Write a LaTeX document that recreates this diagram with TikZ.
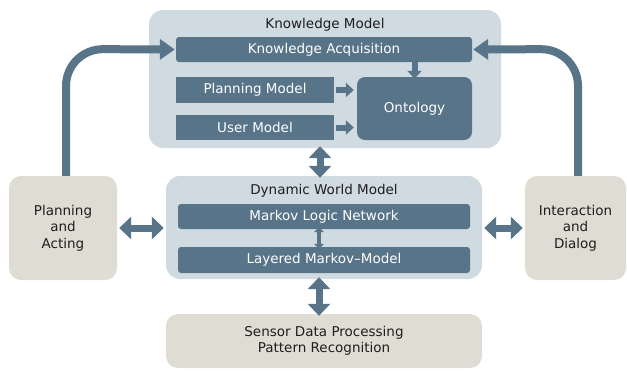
\documentclass[tikz,border=0pt]{standalone}
\usepackage{fontspec}
\setmainfont{DejaVu Sans}
\usetikzlibrary{arrows.meta}
\definecolor{slate}{HTML}{587489}
\definecolor{mist}{HTML}{CFDAE1}
\definecolor{sand}{HTML}{DFDCD4}
\definecolor{ink}{HTML}{1E1E1E}
\tikzset{
  group/.style={fill=mist, draw=none, rounded corners=14pt, inner sep=0pt},
  bar/.style={fill=slate, draw=none, rounded corners=3pt, inner sep=0pt, text=white, font=\fontsize{13.5}{15}\selectfont},
  plainbar/.style={bar, rounded corners=0pt},
  outer/.style={fill=sand, draw=none, rounded corners=12pt, inner sep=0pt, text=ink, align=center, font=\fontsize{13.5}{16.5}\selectfont},
  heading/.style={text=ink, inner sep=0pt, font=\fontsize{13.5}{15}\selectfont},
  dbl/.style={draw=slate, line width=7pt, {Triangle[width=22pt,length=12pt]}-{Triangle[width=22pt,length=12pt]}},
  tiny/.style={draw=slate, line width=3.5pt, {Triangle[width=10pt,length=5pt]}-{Triangle[width=10pt,length=5pt]}},
  push/.style={draw=slate, line width=6pt, -{Triangle[width=14pt,length=8pt]}},
  loop/.style={draw=slate, line width=8pt, rounded corners=37pt, -{Triangle[width=20pt,length=15pt]}},
}
\begin{document}
\begin{tikzpicture}[x=1pt,y=-1pt]
  \useasboundingbox (0,0) rectangle (627,370);

  % knowledge model group
  \node[group, minimum width=352pt, minimum height=138pt] (km) at (325,79) {};
  \node[heading] (kmt) at (325,25) {Knowledge Model};
  \node[bar, minimum width=296pt, minimum height=25pt] (ka) at (324,49.5) {Knowledge Acquisition};
  \node[plainbar, minimum width=158pt, minimum height=26pt] (pm) at (255,90) {Planning Model};
  \node[plainbar, minimum width=158pt, minimum height=25pt] (um) at (255,127.5) {User Model};
  \node[bar, rounded corners=8pt, minimum width=115pt, minimum height=63pt] (onto) at (414.5,108.5) {Ontology};

  % dynamic world model group
  \node[group, minimum width=316pt, minimum height=103pt] (dwm) at (324,227.5) {};
  \node[heading] (dwmt) at (324,191) {Dynamic World Model};
  \node[bar, minimum width=292pt, minimum height=25pt] (mln) at (324,216.5) {Markov Logic Network};
  \node[bar, minimum width=292pt, minimum height=26pt] (lmm) at (324,260) {Layered Markov–Model};

  % outer components
  \node[outer, minimum width=108pt, minimum height=104pt] (pa) at (63,228) {Planning\\and\\Acting};
  \node[outer, minimum width=101pt, minimum height=104pt] (id) at (575.5,228) {Interaction\\and\\Dialog};
  \node[outer, minimum width=316pt, minimum height=54pt] (sdp) at (324,341) {Sensor Data Processing\\Pattern Recognition};

  % connectors inside the knowledge model
  \draw[push] (pm.east) ++(2pt,0) -- ([xshift=-3pt]onto.west |- pm.east);
  \draw[push] (um.east) ++(2pt,0) -- ([xshift=-3pt]onto.west |- um.east);
  \draw[push] ([yshift=2pt]ka.south -| onto.north) -- ([yshift=-2pt]onto.north);

  % connectors between the groups
  \draw[dbl] ([yshift=2pt]km.south -| 320,0) -- ([yshift=-2pt]dwm.north -| 320,0);
  \draw[dbl] ([yshift=2pt]dwm.south -| 319,0) -- ([yshift=-2pt]sdp.north -| 319,0);
  \draw[tiny] ([yshift=2pt]mln.south -| 319,0) -- ([yshift=-2pt]lmm.north -| 319,0);
  \draw[dbl] ([xshift=2pt]pa.east |- 0,228) -- ([xshift=-2pt]dwm.west |- 0,228);
  \draw[dbl] ([xshift=2pt]dwm.east |- 0,228) -- ([xshift=-2pt]id.west |- 0,228);

  % feedback loops into knowledge acquisition
  \draw[loop] (pa.north -| 66,0) -- (66,49) -- ([xshift=-1pt]ka.west);
  \draw[loop] (id.north -| 578,0) -- (578,49) -- ([xshift=1pt]ka.east);
\end{tikzpicture}
\end{document}
